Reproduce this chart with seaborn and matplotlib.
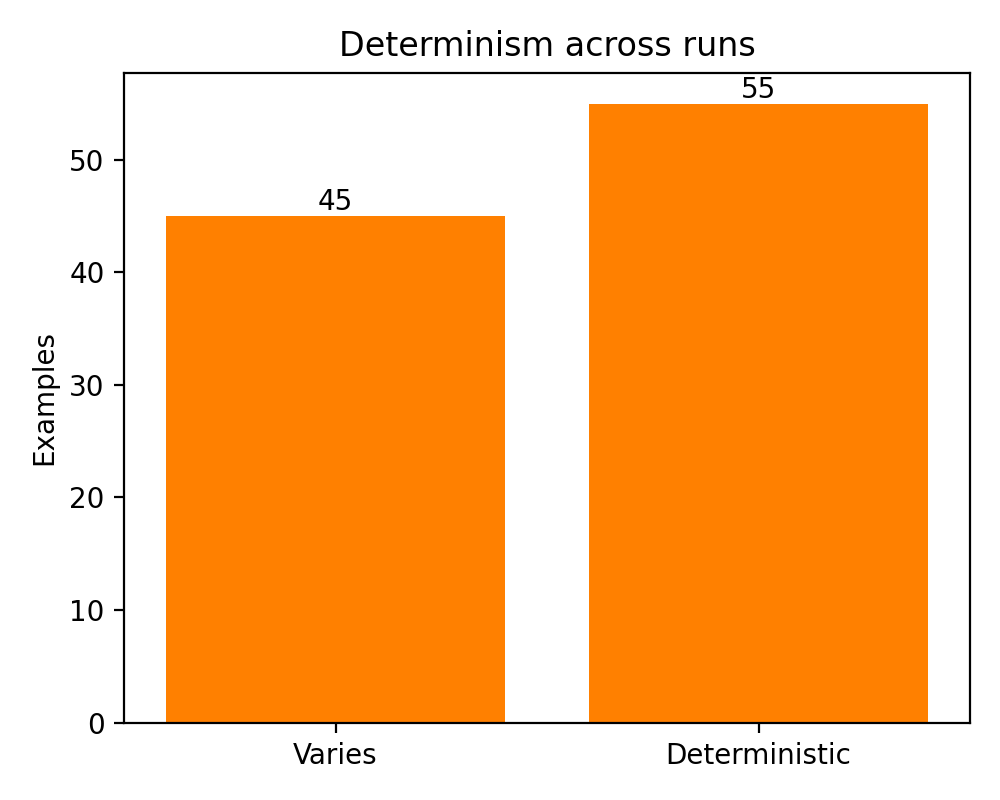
import pandas as pd
import seaborn as sns
import matplotlib
matplotlib.use("Agg")
import matplotlib.pyplot as plt

categories = ["Varies", "Deterministic"]
counts = [45, 55]

df = pd.DataFrame({"Outcome": categories, "Examples": counts})

fig, ax = plt.subplots(figsize=(5, 4), dpi=200)
sns.barplot(data=df, x="Outcome", y="Examples", color="#ff8000",
            saturation=1, width=0.8, ax=ax)
for c in ax.containers:
    ax.bar_label(c)

ax.set_title("Determinism across runs")
ax.set_xlabel("")
ax.set_ylabel("Examples")
plt.tight_layout()
plt.savefig("out.png")
